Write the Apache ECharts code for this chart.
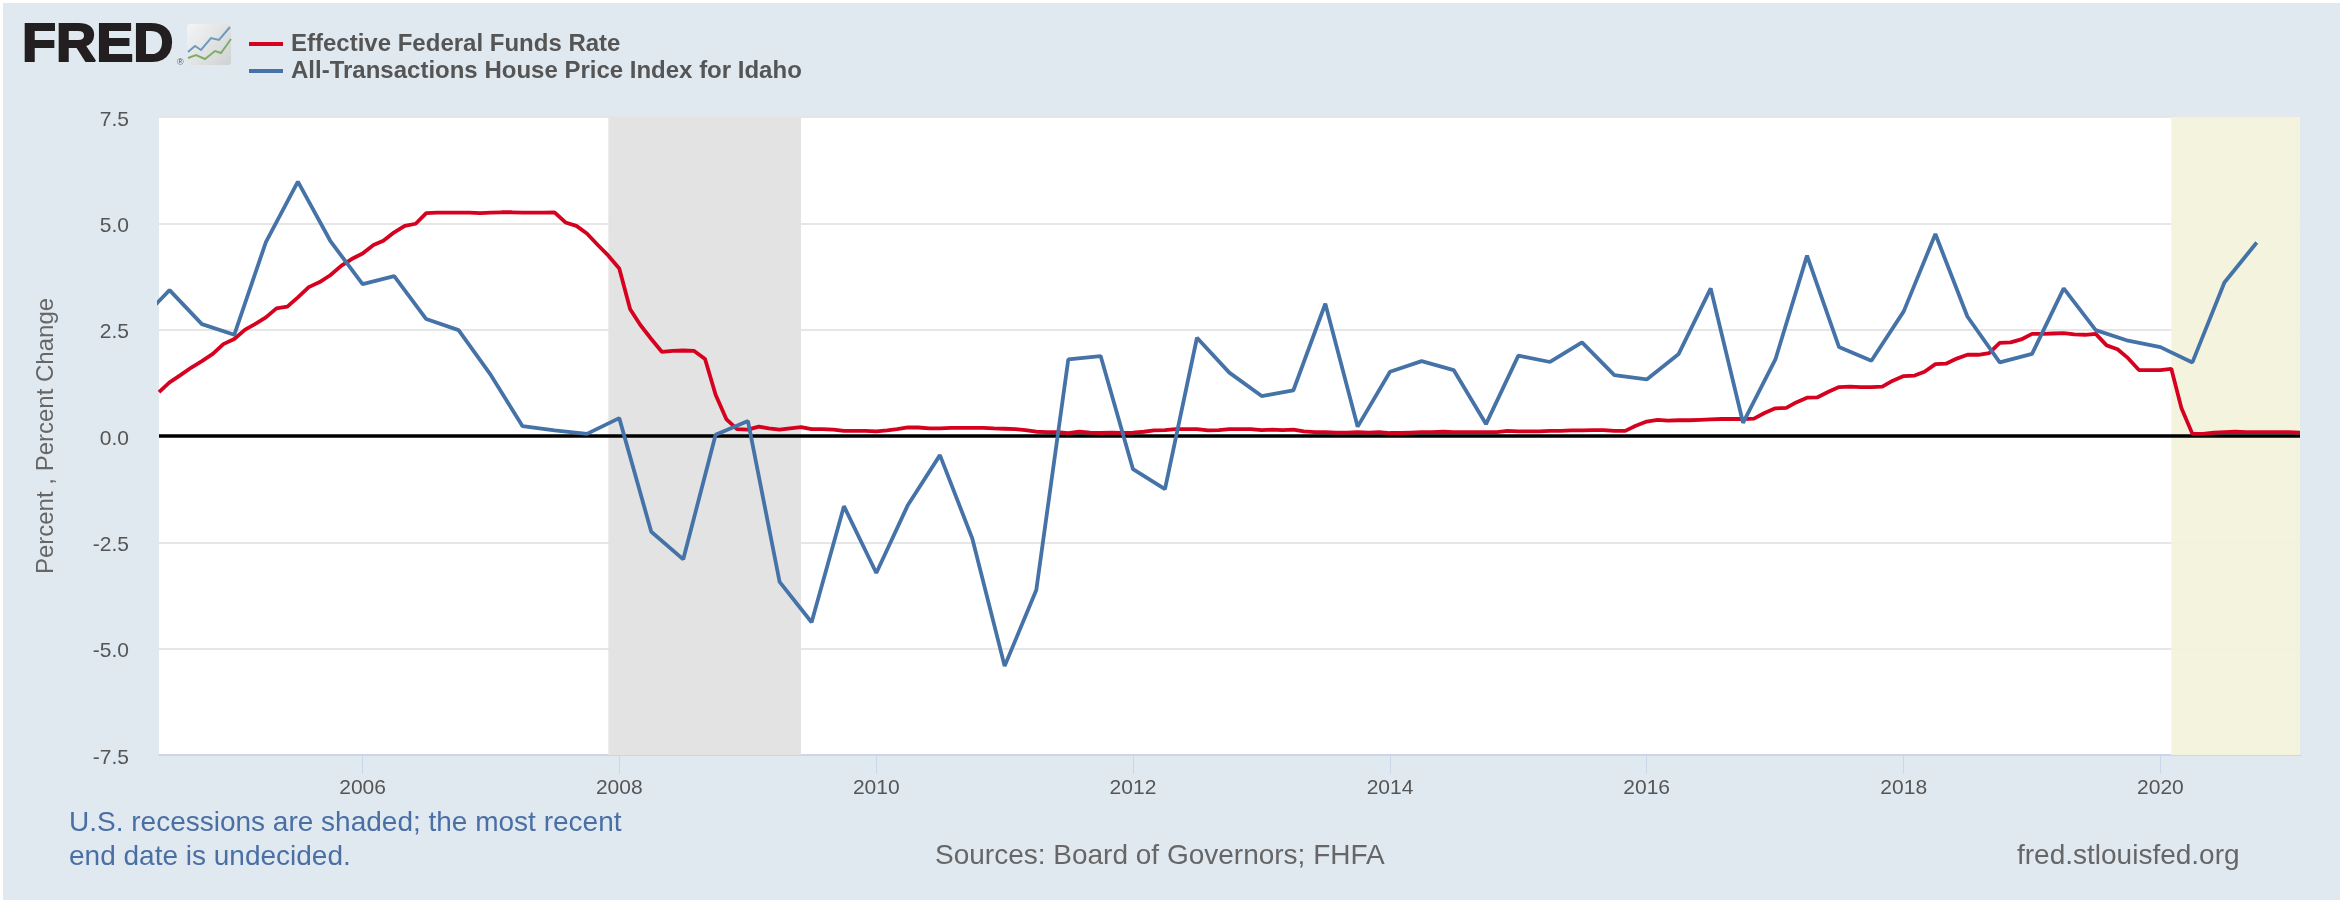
<!DOCTYPE html>
<html><head><meta charset="utf-8">
<style>html,body{margin:0;padding:0;background:#fff}#c{width:2346px;height:900px}</style>
<script src="https://cdn.jsdelivr.net/npm/echarts@6/dist/echarts.min.js"></script>
</head><body><div id="c"></div>
<script>
const FONT = '"Liberation Sans", Arial, sans-serif';
const seriesNames = ['Effective Federal Funds Rate', 'All-Transactions House Price Index for Idaho'];
const yTicks = [-7.5, -5, -2.5, 0, 2.5, 5, 7.5];
const xTickYears = [2006, 2008, 2010, 2012, 2014, 2016, 2018, 2020];
const recessionStarts = [[2007, 12], [2020, 2]];
const recessionEnds = [[2009, 6], [2021, 2]];

// Monthly, starting 2004-06
const fedFundsStart = [2004, 6];
const fedFunds = [
  1.03,1.26,1.43,1.61,1.76,1.93,2.16,
  2.28,2.50,2.63,2.79,3.00,3.04,3.26,3.50,3.62,3.78,4.00,4.16,
  4.29,4.49,4.59,4.79,4.94,4.99,5.24,5.25,5.25,5.25,5.25,5.24,
  5.25,5.26,5.26,5.25,5.25,5.25,5.26,5.02,4.94,4.76,4.49,4.24,
  3.94,2.98,2.61,2.28,1.98,2.00,2.01,2.00,1.81,0.97,0.39,0.16,
  0.15,0.22,0.18,0.15,0.18,0.21,0.16,0.16,0.15,0.12,0.12,0.12,
  0.11,0.13,0.16,0.20,0.20,0.18,0.18,0.19,0.19,0.19,0.19,0.18,
  0.17,0.16,0.14,0.10,0.09,0.09,0.07,0.10,0.08,0.07,0.08,0.07,
  0.08,0.10,0.13,0.14,0.16,0.16,0.16,0.13,0.14,0.16,0.16,0.16,
  0.14,0.15,0.14,0.15,0.11,0.09,0.09,0.08,0.08,0.09,0.08,0.09,
  0.07,0.07,0.08,0.09,0.09,0.10,0.09,0.09,0.09,0.09,0.09,0.12,
  0.11,0.11,0.11,0.12,0.12,0.13,0.13,0.14,0.14,0.12,0.12,0.24,
  0.34,0.38,0.36,0.37,0.37,0.38,0.39,0.40,0.40,0.40,0.41,0.54,
  0.65,0.66,0.79,0.90,0.91,1.04,1.15,1.16,1.15,1.15,1.16,1.30,
  1.41,1.42,1.51,1.69,1.70,1.82,1.91,1.91,1.95,2.19,2.20,2.27,
  2.40,2.40,2.41,2.42,2.39,2.38,2.40,2.13,2.04,1.83,1.55,1.55,
  1.55,1.58,0.65,0.05,0.05,0.08,0.09,0.10,0.09,0.09,0.09,0.09,
  0.09,0.08
];

// Quarterly, starting 2004-04 (first point lies just left of the visible range)
const housePriceStart = [2004, 4];
const housePrice = [
  2.65,3.43,2.63,
  2.38,4.56,5.98,4.59,
  3.57,3.76,2.75,2.49,
  1.43,0.23,0.13,0.05,
  0.42,-2.25,-2.90,0.03,
  0.35,-3.43,-4.38,-1.65,
  -3.22,-1.62,-0.45,-2.41,
  -5.41,-3.62,1.80,1.88,
  -0.78,-1.25,2.31,1.49,
  0.94,1.07,3.11,0.22,
  1.51,1.76,1.55,0.28,
  1.89,1.74,2.20,1.43,
  1.33,1.93,3.47,0.31,
  1.80,4.24,2.09,1.77,
  2.93,4.75,2.81,1.73,
  1.93,3.47,2.49,2.24,
  2.09,1.73,3.61,4.55
];

function month(start, i, step) {
  const m = start[1] - 1 + i * step;
  return Date.UTC(start[0] + Math.floor(m / 12), m % 12, 1);
}
const ym = p => Date.UTC(p[0], p[1] - 1, 1);
const xMin = Date.UTC(2004, 5, 1), xMax = Date.UTC(2021, 1, 1);
const fedData = fedFunds.map((v, i) => [month(fedFundsStart, i, 1), v]);
const hpiData = housePrice.map((v, i) => [month(housePriceStart, i, 3), v]);
const yearTicks = xTickYears.map(y => Date.UTC(y, 0, 1));

const chart = echarts.init(document.getElementById('c'), null, {renderer: 'canvas'});
chart.setOption({
  animation: false,
  backgroundColor: '#ffffff',
  textStyle: {fontFamily: FONT},
  grid: {left: 159, right: 46, top: 117, bottom: 145, show: true, backgroundColor: '#ffffff', borderWidth: 0},
  legend: {
    show: true, orient: 'vertical', left: 249, top: 32, itemWidth: 34, itemHeight: 4, itemGap: 3, inactiveColor: '#555',
    icon: 'rect', padding: 0,
    textStyle: {fontFamily: FONT, fontSize: 24, fontWeight: 'bold', color: '#555555', padding: [0, 0, 0, 3]},
    data: seriesNames
  },
  xAxis: {
    type: 'value', min: xMin, max: xMax,
    axisLine: {show: true, onZero: false, lineStyle: {color: '#ccd6eb', width: 2}},
    axisTick: {show: true, customValues: yearTicks, length: 19, lineStyle: {color: '#ccd6eb', width: 1}},
    axisLabel: {
      show: true, customValues: yearTicks, margin: 23, fontSize: 21, color: '#555555', fontFamily: FONT,
      formatter: v => String(new Date(v).getUTCFullYear())
    },
    splitLine: {show: false}
  },
  yAxis: {
    type: 'value', min: yTicks[0], max: yTicks[yTicks.length - 1], interval: 2.5,
    name: 'Percent , Percent Change', nameLocation: 'middle', nameGap: 101, nameRotate: 90,
    nameTextStyle: {fontFamily: FONT, fontSize: 24, color: '#666666'},
    axisLine: {show: false}, axisTick: {show: false},
    axisLabel: {margin: 30, fontSize: 21, color: '#555555', fontFamily: FONT, verticalAlign: 'top', lineHeight: 6, formatter: v => v.toFixed(1)},
    splitLine: {show: true, lineStyle: {color: '#e6e6e6', width: 2}}
  },
  series: [
    {
      name: seriesNames[0], type: 'line', data: fedData, showSymbol: false, symbol: 'none', z: 4,
      lineStyle: {color: '#d6001f', width: 3.8}, itemStyle: {color: '#d6001f'},
      markArea: {silent: true, z: 1, data: [
        [{xAxis: ym(recessionStarts[0])}, {xAxis: ym(recessionEnds[0]), itemStyle: {color: '#e3e3e3', opacity: 1}}],
        [{xAxis: ym(recessionStarts[1])}, {xAxis: ym(recessionEnds[1]), itemStyle: {color: '#f3f3dc', opacity: 0.95}}]
      ]},
      markLine: {silent: true, symbol: 'none', z: 3, label: {show: false},
        lineStyle: {color: '#000000', width: 3.5, type: 'solid'}, data: [{yAxis: 0}]}
    },
    {
      name: seriesNames[1], type: 'line', data: hpiData, showSymbol: false, symbol: 'none', z: 5,
      lineStyle: {color: '#4572a7', width: 3.8}, itemStyle: {color: '#4572a7'}
    }
  ],
  graphic: [
    {type: 'rect', z: -10, silent: true, shape: {x: 3, y: 3, width: 2337, height: 897}, style: {fill: '#e1e9f0'}},
    {type: 'text', x: 22, y: 19, silent: true, style: {text: 'FRED', font: 'bold 54px ' + FONT, fill: '#231f20', stroke: '#231f20', lineWidth: 2}, scaleX: 1.03},
    {type: 'text', x: 177, y: 58, silent: true, style: {text: '®', font: '9px ' + FONT, fill: '#555'}},
    {type: 'rect', silent: true, shape: {x: 187, y: 24, width: 44, height: 41, r: 3}, style: {fill: {type: 'linear', x: 0, y: 0, x2: 1, y2: 1, colorStops: [{offset: 0, color: '#f4f5f6'}, {offset: 1, color: '#cfd2d2'}]}}},
    {type: 'polyline', silent: true, shape: {points: [[188, 52], [195, 46], [201, 50], [211, 38], [219, 40], [230, 27]]}, style: {stroke: '#6d9ac0', lineWidth: 2, fill: null}},
    {type: 'polyline', silent: true, shape: {points: [[188, 58], [196, 55], [205, 59], [215, 51], [221, 53], [231, 39]]}, style: {stroke: '#7fae6a', lineWidth: 2, fill: null}},
    {type: 'text', x: 69, y: 809, silent: true, style: {text: 'U.S. recessions are shaded; the most recent', font: '28px ' + FONT, fill: '#4a6fa5'}},
    {type: 'text', x: 69, y: 843, silent: true, style: {text: 'end date is undecided.', font: '28px ' + FONT, fill: '#4a6fa5'}},
    {type: 'text', x: 935, y: 842, silent: true, style: {text: 'Sources: Board of Governors; FHFA', font: '28px ' + FONT, fill: '#666666'}},
    {type: 'text', x: 2017, y: 842, silent: true, style: {text: 'fred.stlouisfed.org', font: '28px ' + FONT, fill: '#666666'}}
  ]
});
</script></body></html>
